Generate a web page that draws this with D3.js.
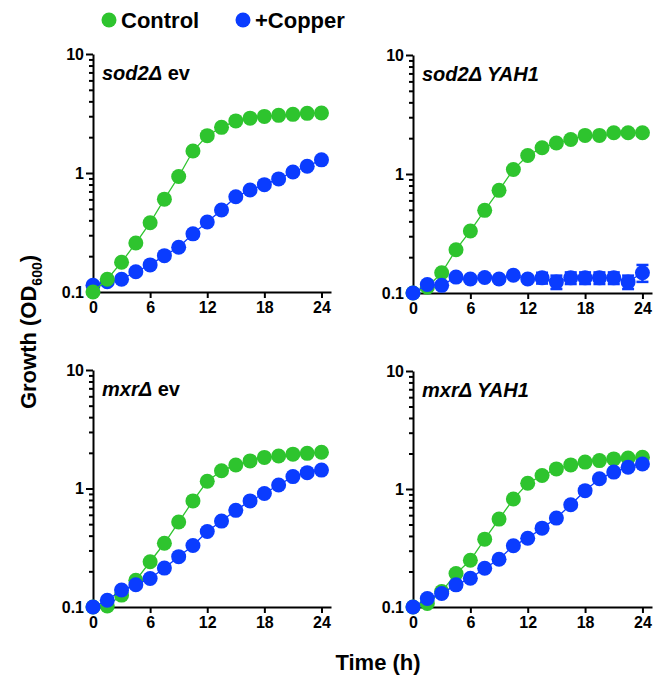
<!DOCTYPE html>
<html>
<head>
<meta charset="utf-8">
<script src="https://cdn.jsdelivr.net/npm/d3@7"></script>
<style>
  body { margin: 0; background: #fff; }
  svg { font-family: "Liberation Sans", Arial, sans-serif; }
</style>
</head>
<body>
<div id="chart"></div>
<script>
// time points (h)
var hours = [0, 1.5, 3, 4.5, 6, 7.5, 9, 10.5, 12, 13.5, 15, 16.5, 18, 19.5, 21, 22.5, 24];
var xTicks = [0, 6, 12, 18, 24];
var yTicks = [0.1, 1, 10];
var yMinor = [0.2, 0.3, 0.4, 0.5, 0.6, 0.7, 0.8, 0.9, 2, 3, 4, 5, 6, 7, 8, 9];

// OD600
var sod2EvControl = [0.1, 0.128, 0.178, 0.258, 0.382, 0.603, 0.934, 1.53, 2.06, 2.42, 2.74, 2.89, 2.99, 3.05, 3.11, 3.17, 3.19];
var sod2EvCopper = [0.114, 0.122, 0.128, 0.148, 0.169, 0.202, 0.238, 0.308, 0.387, 0.489, 0.631, 0.719, 0.798, 0.892, 1.02, 1.14, 1.29];

var sod2Yah1Control = [0.1, 0.112, 0.148, 0.231, 0.332, 0.495, 0.729, 1.09, 1.43, 1.66, 1.82, 1.95, 2.11, 2.11, 2.22, 2.22, 2.22];
var sod2Yah1Copper = [0.1, 0.118, 0.116, 0.136, 0.131, 0.135, 0.131, 0.141, 0.131, 0.134, 0.124, 0.134, 0.134, 0.134, 0.134, 0.124, 0.148];
var sod2Yah1CopperErr = [0, 0, 0, 0, 0, 0, 0, 0, 0, 0.014, 0.016, 0.015, 0.015, 0.015, 0.015, 0.016, 0.024];

var mxrEvControl = [0.1, 0.102, 0.126, 0.168, 0.241, 0.345, 0.521, 0.786, 1.15, 1.41, 1.58, 1.71, 1.83, 1.88, 1.95, 1.98, 2.02];
var mxrEvCopper = [0.1, 0.114, 0.139, 0.154, 0.174, 0.213, 0.266, 0.33, 0.434, 0.531, 0.654, 0.786, 0.907, 1.07, 1.26, 1.36, 1.43];

var mxrYah1Control = [0.1, 0.107, 0.135, 0.192, 0.249, 0.376, 0.556, 0.822, 1.12, 1.30, 1.48, 1.60, 1.69, 1.74, 1.80, 1.83, 1.86];
var mxrYah1Copper = [0.1, 0.118, 0.13, 0.154, 0.175, 0.213, 0.254, 0.33, 0.383, 0.466, 0.567, 0.736, 0.968, 1.22, 1.39, 1.53, 1.63];

var green = "#2ec42e";
var blue = "#0a3cff";

var svg = d3.select("#chart").append("svg")
  .attr("width", 657)
  .attr("height", 680);

// legend
var legend = [["Control", green, 109], ["+Copper", blue, 243]];
legend.forEach(function(l) {
  svg.append("circle").attr("cx", l[2]).attr("cy", 20).attr("r", 7.5).attr("fill", l[1]);
  svg.append("text").attr("x", l[2] + 12).attr("y", 28)
    .attr("font-size", "22px").attr("font-weight", "bold").text(l[0]);
});

// axis titles
svg.append("text")
  .attr("transform", "translate(36, 332) rotate(-90)")
  .attr("text-anchor", "middle")
  .attr("font-size", "22px").attr("font-weight", "bold")
  .html("Growth (OD<tspan font-size='14px' dy='6'>600</tspan><tspan dy='-6'>)</tspan>");

svg.append("text")
  .attr("x", 378).attr("y", 670)
  .attr("text-anchor", "middle")
  .attr("font-size", "22px").attr("font-weight", "bold")
  .text("Time (h)");

var panels = [
  { left: 93, right: 331, top: 54, bottom: 292, gene: "sod2\u0394", plasmid: " ev", italic: false,
    control: sod2EvControl, copper: sod2EvCopper, err: null, greenOnTop: true },
  { left: 413, right: 652, top: 55, bottom: 293, gene: "sod2\u0394", plasmid: " YAH1", italic: true,
    control: sod2Yah1Control, copper: sod2Yah1Copper, err: sod2Yah1CopperErr, greenOnTop: false },
  { left: 93, right: 331, top: 370, bottom: 607, gene: "mxr\u0394", plasmid: " ev", italic: false,
    control: mxrEvControl, copper: mxrEvCopper, err: null, greenOnTop: false },
  { left: 413, right: 652, top: 371, bottom: 607, gene: "mxr\u0394", plasmid: " YAH1", italic: true,
    control: mxrYah1Control, copper: mxrYah1Copper, err: null, greenOnTop: false }
];

function styleAxis(sel) {
  sel.selectAll("path, line").attr("stroke", "#000").attr("stroke-width", 2);
  sel.selectAll("text")
    .attr("font-size", "16px")
    .attr("font-weight", "bold")
    .attr("font-family", "Liberation Sans, Arial, sans-serif")
    .attr("fill", "#000");
}

panels.forEach(function(p) {
  var g = svg.append("g");

  var x = d3.scaleLinear().domain([0, 25]).range([p.left, p.right]);
  var y = d3.scaleLog().domain([0.1, 10]).range([p.bottom, p.top]);

  // minor y ticks
  var minor = g.append("g")
    .attr("transform", `translate(${p.left},0)`)
    .call(d3.axisLeft(y).tickValues(yMinor).tickSize(4).tickFormat(""));
  minor.select(".domain").remove();
  styleAxis(minor);

  g.append("g")
    .attr("transform", `translate(${p.left},0)`)
    .call(d3.axisLeft(y).tickValues(yTicks).tickSize(7).tickSizeOuter(0).tickPadding(2)
      .tickFormat(d3.format("~g")))
    .call(styleAxis);

  g.append("g")
    .attr("transform", `translate(0,${p.bottom})`)
    .call(d3.axisBottom(x).tickValues(xTicks).tickSize(6).tickSizeOuter(0).tickPadding(4))
    .call(styleAxis);

  // panel title
  var t = g.append("text")
    .attr("x", p.left + 9).attr("y", p.top + 26)
    .attr("font-size", "20px").attr("font-weight", "bold");
  t.append("tspan").attr("font-style", "italic").text(p.gene);
  t.append("tspan").attr("font-style", p.italic ? "italic" : "normal").text(p.plasmid);

  var line = d3.line()
    .x(function(d, i) { return x(hours[i]); })
    .y(function(d) { return y(d); });

  function drawSeries(values, color, err) {
    g.append("path")
      .datum(values)
      .attr("fill", "none")
      .attr("stroke", color)
      .attr("stroke-width", 1.3)
      .attr("d", line);

    if (err) {
      var eb = g.append("g").attr("stroke", color).attr("stroke-width", 2.5);
      values.forEach(function(v, i) {
        if (!err[i]) return;
        var cx = x(hours[i]);
        eb.append("line").attr("x1", cx).attr("x2", cx).attr("y1", y(v - err[i])).attr("y2", y(v + err[i]));
        eb.append("line").attr("x1", cx - 6).attr("x2", cx + 6).attr("y1", y(v - err[i])).attr("y2", y(v - err[i]));
        eb.append("line").attr("x1", cx - 6).attr("x2", cx + 6).attr("y1", y(v + err[i])).attr("y2", y(v + err[i]));
      });
    }

    g.selectAll(null)
      .data(values)
      .enter()
      .append("circle")
      .attr("cx", function(d, i) { return x(hours[i]); })
      .attr("cy", function(d) { return y(d); })
      .attr("r", 7.5)
      .attr("fill", color);
  }

  if (p.greenOnTop) {
    drawSeries(p.copper, blue, p.err);
    drawSeries(p.control, green, null);
  } else {
    drawSeries(p.control, green, null);
    drawSeries(p.copper, blue, p.err);
  }
});
</script>
</body>
</html>
